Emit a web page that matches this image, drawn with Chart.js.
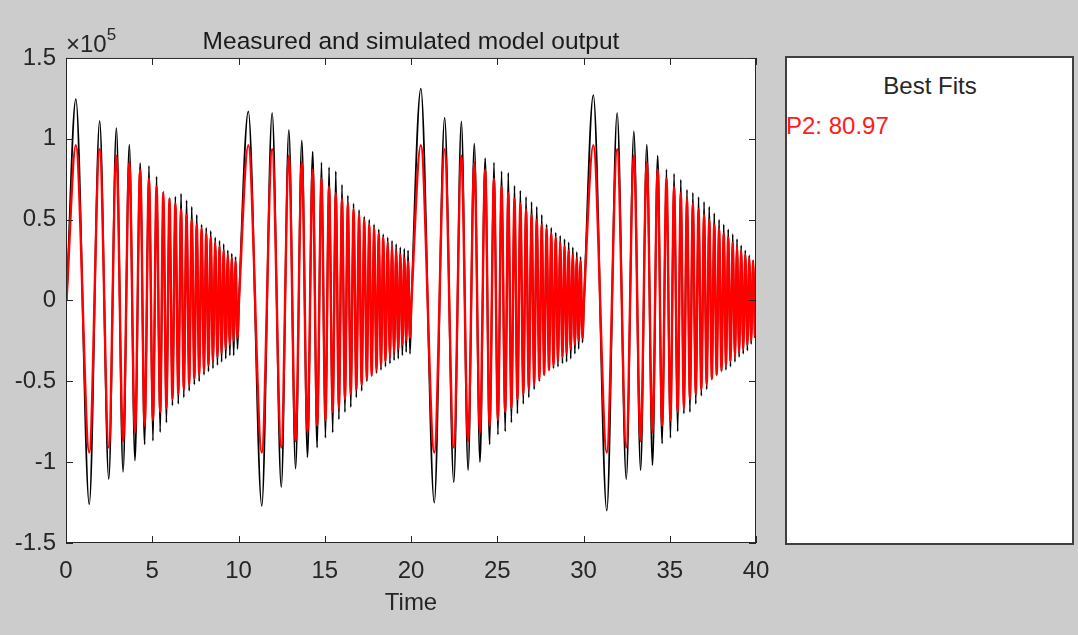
<!DOCTYPE html>
<html>
<head>
<meta charset="utf-8">
<script src="https://cdn.jsdelivr.net/npm/chart.js@4.4.1/dist/chart.umd.min.js"></script>
<style>
  body { margin: 0; background: #cccccc; }
  #wrap { position: relative; width: 1078px; height: 635px; overflow: hidden; }
  #plot { position: absolute; left: 0; top: 0; }
  .txt { position: absolute; font-family: "Liberation Sans", Arial, sans-serif; color: #262626; white-space: nowrap; line-height: 24px; }
  #expo { left: 66px; top: 32px; font-size: 24px; }
  #expo sup { font-size: 17px; position: relative; top: -9px; vertical-align: top; }
  #fits { position: absolute; left: 785px; top: 56px; width: 285px; height: 485px; background: #fff; border: 2px solid #404040; }
</style>
</head>
<body>
<div id="wrap">
  <canvas id="plot" width="1078" height="635"></canvas>
  <span class="txt" id="expo">&times;10<sup>5</sup></span>
  <div id="fits"></div>
  <span class="txt" style="left:786px;top:74px;width:288px;text-align:center;font-size:24px;">Best Fits</span>
  <span class="txt" style="left:786px;top:114px;font-size:24px;color:#ff1a1a;">P2: 80.97</span>
</div>
<script>
// values are in units of 1e5 (axis shows x10^5)
const xTicks = [0, 5, 10, 15, 20, 25, 30, 35, 40];
const yTicks = [-1.5, -1, -0.5, 0, 0.5, 1, 1.5];
const yTickLabels = ["-1.5", "-1", "-0.5", "0", "0.5", "1", "1.5"];

// the input repeats every 10 s, extrema times inside one period
const segmentStarts = [0, 10, 20, 30];
const extremaTimes = [0.03, 0.57, 1.35, 1.95, 2.48, 2.92, 3.31, 3.67, 4.00, 4.30, 4.56, 4.81, 5.04, 5.25, 5.46, 5.64,
  5.82, 6.00, 6.17, 6.34, 6.51, 6.67, 6.83, 6.99, 7.14, 7.29, 7.44, 7.58, 7.72, 7.86, 8.00, 8.13, 8.26, 8.39,
  8.52, 8.65, 8.78, 8.90, 9.02, 9.14, 9.26, 9.38, 9.50, 9.61, 9.72, 9.83, 9.94];

// simulated (red), same in every period
const simulated = [0.0, 0.96, -0.94, 0.935, -0.91, 0.895, -0.87, 0.855, -0.815, 0.81, -0.775, 0.755, -0.74, 0.705,
  -0.69, 0.665, -0.665, 0.63, -0.61, 0.60, -0.58, 0.565, -0.55, 0.53, -0.52, 0.50, -0.485, 0.47, -0.46, 0.445,
  -0.43, 0.415, -0.40, 0.39, -0.375, 0.36, -0.35, 0.335, -0.325, 0.31, -0.30, 0.285, -0.275, 0.265, -0.25, 0.245, -0.23];

// measured (black), one list per period
const measured1 = [0.0, 1.245, -1.26, 1.11, -1.105, 1.066, -1.06, 0.963, -0.99, 0.85, -0.89, 0.833, -0.868, 0.767,
  -0.815, 0.675, -0.755, 0.634, -0.65, 0.644, -0.64, 0.66, -0.60, 0.62, -0.56, 0.58, -0.52, 0.53, -0.50, 0.47,
  -0.46, 0.45, -0.44, 0.43, -0.42, 0.39, -0.40, 0.37, -0.38, 0.35, -0.36, 0.31, -0.34, 0.29, -0.34, 0.27, -0.30];
const measured2 = [0.0, 1.17, -1.27, 1.16, -1.155, 1.055, -1.04, 0.99, -0.97, 0.92, -0.91, 0.854, -0.85, 0.825,
  -0.817, 0.80, -0.735, 0.716, -0.69, 0.65, -0.66, 0.60, -0.60, 0.56, -0.56, 0.52, -0.50, 0.50, -0.47, 0.47,
  -0.45, 0.44, -0.43, 0.41, -0.41, 0.39, -0.39, 0.37, -0.37, 0.35, -0.36, 0.33, -0.34, 0.32, -0.32, 0.31, -0.33];
const measured3 = [0.0, 1.31, -1.25, 1.13, -1.125, 1.107, -1.05, 0.97, -1.0, 0.88, -0.89, 0.854, -0.83, 0.80,
  -0.81, 0.79, -0.755, 0.71, -0.70, 0.68, -0.64, 0.64, -0.60, 0.61, -0.55, 0.58, -0.50, 0.53, -0.46, 0.47,
  -0.43, 0.45, -0.42, 0.42, -0.41, 0.40, -0.39, 0.38, -0.38, 0.36, -0.36, 0.33, -0.33, 0.30, -0.30, 0.27, -0.26];
const measured4 = [0.0, 1.27, -1.30, 1.16, -1.105, 1.045, -1.05, 0.963, -1.02, 0.895, -0.885, 0.81, -0.85, 0.784,
  -0.81, 0.747, -0.70, 0.685, -0.69, 0.667, -0.64, 0.64, -0.59, 0.61, -0.55, 0.58, -0.49, 0.54, -0.46, 0.50,
  -0.44, 0.47, -0.43, 0.44, -0.41, 0.41, -0.38, 0.38, -0.35, 0.34, -0.33, 0.31, -0.31, 0.28, -0.27, 0.25, -0.23];

const measuredBySegment = [measured1, measured2, measured3, measured4];

function buildPoints(valuesFor) {
  const pts = [];
  segmentStarts.forEach((t0, s) => {
    const vals = valuesFor(s);
    extremaTimes.forEach((t, i) => pts.push({ x: t0 + t, y: vals[i] }));
  });
  return pts;
}

const axisColor = "#262626";
const fontFamily = '"Liberation Sans", Arial, sans-serif';

const boxPlugin = {
  id: "box",
  beforeDraw(chart) {
    const { ctx, chartArea: a } = chart;
    ctx.save();
    ctx.fillStyle = "#ffffff";
    ctx.fillRect(a.left, a.top, a.right - a.left, a.bottom - a.top);
    ctx.restore();
  },
  afterDraw(chart) {
    const { ctx, chartArea: a, scales } = chart;
    const len = 7;
    ctx.save();
    ctx.strokeStyle = axisColor;
    ctx.lineWidth = 1;
    ctx.strokeRect(a.left + 0.5, a.top + 0.5, a.right - a.left - 1, a.bottom - a.top - 1);
    ctx.beginPath();
    xTicks.forEach(v => {
      const px = Math.round(scales.x.getPixelForValue(v)) + 0.5;
      ctx.moveTo(px, a.bottom); ctx.lineTo(px, a.bottom - len);
      ctx.moveTo(px, a.top); ctx.lineTo(px, a.top + len);
    });
    yTicks.forEach(v => {
      const py = Math.round(scales.y.getPixelForValue(v)) + 0.5;
      ctx.moveTo(a.left, py); ctx.lineTo(a.left + len, py);
      ctx.moveTo(a.right, py); ctx.lineTo(a.right - len, py);
    });
    ctx.stroke();
    ctx.restore();
  }
};

new Chart(document.getElementById("plot"), {
  type: "line",
  data: {
    datasets: [
      {
        label: "Simulated",
        data: buildPoints(() => simulated),
        borderColor: "#ff0000",
        borderWidth: 2.4
      },
      {
        label: "Measured",
        data: buildPoints(s => measuredBySegment[s]),
        borderColor: "#000000",
        borderWidth: 1.8
      }
    ]
  },
  options: {
    responsive: false,
    animation: false,
    events: [],
    elements: {
      point: { radius: 0 },
      line: { cubicInterpolationMode: "monotone", fill: false }
    },
    layout: { padding: { left: 0, right: 322, top: 0, bottom: 0 } },
    plugins: {
      legend: { display: false },
      tooltip: { enabled: false },
      title: {
        display: true,
        fullSize: false,
        text: "Measured and simulated model output",
        color: "#1a1a1a",
        font: { family: fontFamily, size: 24.5, weight: "normal", lineHeight: 1.1 },
        padding: { top: 29, bottom: 2 }
      }
    },
    scales: {
      x: {
        type: "linear",
        min: 0,
        max: 40,
        afterBuildTicks: s => { s.ticks = xTicks.map(v => ({ value: v })); },
        afterFit: s => { s.height = 92; },
        grid: { display: false, drawTicks: false },
        border: { display: false },
        ticks: { color: axisColor, padding: 14, maxRotation: 0, font: { family: fontFamily, size: 24 } },
        title: {
          display: true,
          text: "Time",
          color: axisColor,
          font: { family: fontFamily, size: 24 },
          padding: { top: 0, bottom: 17 }
        }
      },
      y: {
        min: -1.5,
        max: 1.5,
        afterBuildTicks: s => { s.ticks = yTicks.map(v => ({ value: v })); },
        afterFit: s => { s.width = 66; },
        grid: { display: false, drawTicks: false },
        border: { display: false },
        ticks: {
          color: axisColor,
          padding: 10,
          font: { family: fontFamily, size: 24 },
          callback: (v) => yTickLabels[yTicks.indexOf(v)]
        }
      }
    }
  },
  plugins: [boxPlugin]
});
</script>
</body>
</html>
